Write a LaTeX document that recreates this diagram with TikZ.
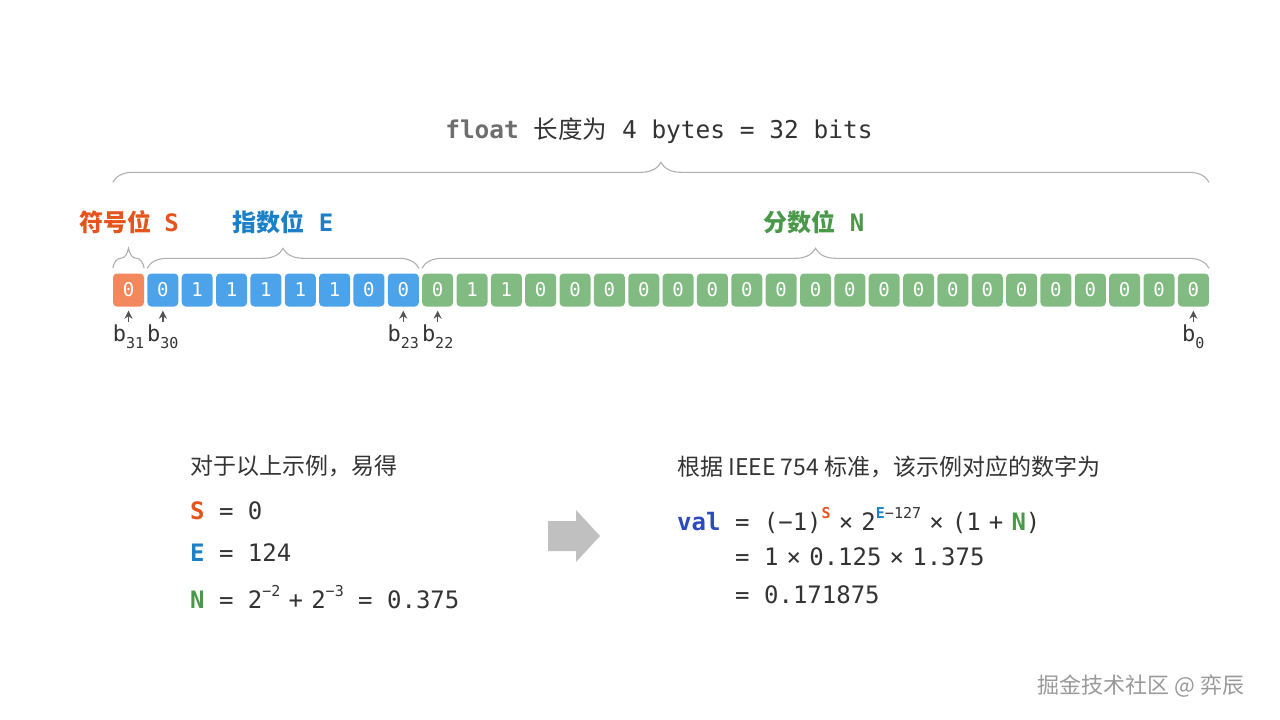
\documentclass[tikz,border=0pt]{standalone}
\usepackage{fontspec}
\usepackage{tikz}
\usetikzlibrary{arrows.meta,positioning,calc,decorations.pathreplacing}
\newfontfamily\cjk{Noto Sans CJK SC}
\newfontfamily\mono{DejaVu Sans Mono}
\definecolor{signred}{RGB}{230,84,30}
\definecolor{signfill}{RGB}{242,136,92}
\definecolor{expblue}{RGB}{28,128,200}
\definecolor{expfill}{RGB}{76,163,234}
\definecolor{fracgreen}{RGB}{74,152,74}
\definecolor{fracfill}{RGB}{130,187,130}
\definecolor{valblue}{RGB}{44,74,190}
\definecolor{textgrey}{RGB}{51,51,51}
\definecolor{titlegrey}{RGB}{110,110,110}
\definecolor{ptrgrey}{RGB}{85,85,85}
\definecolor{bracegrey}{RGB}{175,175,175}
\definecolor{arrowgrey}{RGB}{192,192,192}
\newcommand{\powsup}[1]{\raisebox{0.5em}{\fontsize{15}{15}\selectfont #1}}
\newcommand{\bitsub}[1]{\raisebox{-0.3em}{\fontsize{15}{15}\selectfont #1}}
\newcommand{\op}[1]{\hspace{0.34em}#1\hspace{0.34em}}

\begin{document}
\begin{tikzpicture}[x=1pt, y=-1pt,
    bitcell/.style={rectangle, minimum width=31pt, minimum height=33pt,
        inner sep=0pt, rounded corners=4pt, text=white,
        font=\mono\fontsize{19}{19}\selectfont},
    bitlabel/.style={inner sep=0pt, text=textgrey,
        font=\mono\fontsize{22}{22}\selectfont},
    brace/.style={draw=bracegrey, line width=1.1pt, decorate,
        decoration={brace, amplitude=20pt}},
    ptr/.style={draw=ptrgrey, line width=1.6pt,
        -{Stealth[length=8pt, width=8pt, inset=2.5pt]},
        shorten >=4pt, shorten <=3pt},
    fieldlabel/.style={font=\cjk\bfseries\fontsize{24}{24}\selectfont},
    bodytext/.style={anchor=west, inner sep=0pt, text=textgrey,
        font=\mono\fontsize{24}{24}\selectfont},
    >=Stealth
]
\useasboundingbox (0,0) rectangle (1280,720);

% bit cells, b31 ... b0
\node[bitcell, fill=signfill] (c0) at (128.5,290) {0};
\foreach \b [count=\i from 1] in {0,1,1,1,1,1,0,0}
    \node[bitcell, fill=expfill] (c\i) at ({128.5+34.35*\i},290) {\b};
\foreach \b [count=\i from 9] in {0,1,1,0,0,0,0,0,0,0,0,0,0,0,0,0,0,0,0,0,0,0,0}
    \node[bitcell, fill=fracfill] (c\i) at ({128.5+34.35*\i},290) {\b};

% braces
\draw[brace] ([yshift=91pt]c0.north west) -- ([yshift=91pt]c31.north east);
\draw[brace] ([yshift=5pt]c0.north west) -- ([yshift=5pt]c0.north east);
\draw[brace] ([yshift=5pt]c1.north west) -- ([yshift=5pt]c8.north east);
\draw[brace] ([yshift=5pt]c9.north west) -- ([yshift=5pt]c31.north east);

% labels
\node[font=\mono\fontsize{24.5}{24.5}\selectfont, text=textgrey] (title) at (659,131)
    {{\bfseries\color{titlegrey}float} {\cjk 长度为} 4 bytes = 32 bits};
\node[fieldlabel, text=signred] (slabel) at (129,222) {符号位\hspace{0.55em}{\mono\bfseries S}};
\node[fieldlabel, text=expblue] (elabel) at (283,222) {指数位\hspace{0.6em}{\mono\bfseries E}};
\node[fieldlabel, text=fracgreen] (nlabel) at (814,222) {分数位\hspace{0.6em}{\mono\bfseries N}};

% bit indices
\node[bitlabel, below=18pt of c0] (lb31) {b\bitsub{31}};
\node[bitlabel, below=18pt of c1] (lb30) {b\bitsub{30}};
\node[bitlabel, below=18pt of c8] (lb23) {b\bitsub{23}};
\node[bitlabel, below=18pt of c9] (lb22) {b\bitsub{22}};
\node[bitlabel, below=18pt of c31] (lb0) {b\bitsub{0}};
\draw[ptr] (lb31.north -| c0.south) -- (c0.south);
\draw[ptr] (lb30.north -| c1.south) -- (c1.south);
\draw[ptr] (lb23.north -| c8.south) -- (c8.south);
\draw[ptr] (lb22.north -| c9.south) -- (c9.south);
\draw[ptr] (lb0.north -| c31.south) -- (c31.south);

% example values
\node[bodytext, font=\cjk\fontsize{23}{23}\selectfont] (given) at (190,466) {对于以上示例，易得};
\node[bodytext] (sval) at (190,511) {{\bfseries\color{signred}S} = 0};
\node[bodytext] (eval) at (190,553) {{\bfseries\color{expblue}E} = 124};
\node[bodytext] (nval) at (190,597)
    {{\bfseries\color{fracgreen}N} = 2\powsup{−2}\op{+}2\powsup{−3} = 0.375};

\fill[arrowgrey] (548,521) -- (576,521) -- (576,510) -- (600,536)
    -- (576,562) -- (576,551) -- (548,551) -- cycle;

\node[bodytext, font=\cjk\fontsize{23}{23}\selectfont] (rule) at (677,467) {根据 IEEE 754 标准，该示例对应的数字为};
\node[bodytext] (val) at (677,521)
    {{\bfseries\color{valblue}val} = (−1)\powsup{\bfseries\color{signred}S}\op{×}2\powsup{{\bfseries\color{expblue}E}−127}\op{×}(1\op{+}{\bfseries\color{fracgreen}N})};
\node[bodytext] (step1) at (735,557) {= 1\op{×}0.125\op{×}1.375};
\node[bodytext] (step2) at (735,595) {= 0.171875};

\node[font=\cjk\fontsize{22}{22}\selectfont, text=gray!80] (mark) at (1141,686) {掘金技术社区 @ 弈辰};
\end{tikzpicture}
\end{document}
